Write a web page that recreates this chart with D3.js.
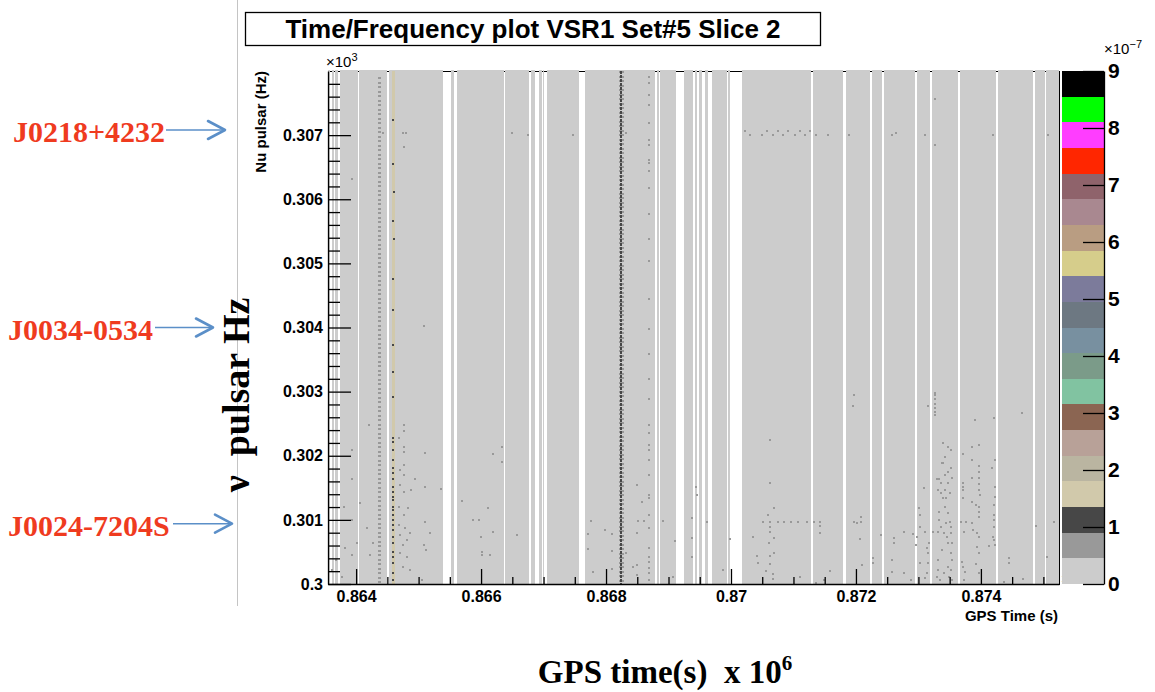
<!DOCTYPE html>
<html><head><meta charset="utf-8">
<script src="https://cdn.jsdelivr.net/npm/d3@7"></script>
<style>body{margin:0;background:#fff}svg{display:block}</style>
</head><body><svg id="c" width="1155" height="692"></svg>
<script>
// ---------------- data ----------------
const chartTitle = "Time/Frequency plot VSR1 Set#5 Slice 2";
const timeDomain = [0.86355, 0.87525];          // GPS time (x10^9 s)
const freqDomain = [0.300, 0.308];              // Nu pulsar (x10^3 Hz)
const zDomain = [0, 9];
const xTicks = [0.864, 0.866, 0.868, 0.870, 0.872, 0.874];
const xTickLabels = ["0.864", "0.866", "0.868", "0.87", "0.872", "0.874"];
const yTicks = [0.300, 0.301, 0.302, 0.303, 0.304, 0.305, 0.306, 0.307];
const yTickLabels = ["0.3", "0.301", "0.302", "0.303", "0.304", "0.305", "0.306", "0.307"];
const zTicks = [0, 1, 2, 3, 4, 5, 6, 7, 8, 9];
const zTickLabels = ["0", "1", "2", "3", "4", "5", "6", "7", "8", "9"];
// ROOT palette, from lowest bin to highest bin
const palette = ["#cccccc", "#999999", "#474747", "#d1c9ab", "#bab5a1", "#b8a198", "#8b6552",
  "#81c3a1", "#7b9b89", "#7890a0", "#6d7882", "#7c7b9b", "#d6cd8b", "#b99d82", "#a98890",
  "#8f636b", "#ff2600", "#ff3dff", "#00ff00", "#000000"];
// time intervals with no data (white strips)
const gaps = [
  [0.86359, 0.86361], [0.86365, 0.86367], [0.86371, 0.86374], [0.86403, 0.86405],
  [0.86450, 0.86452], [0.86539, 0.86552], [0.86557, 0.86561], [0.86636, 0.86639],
  [0.86677, 0.86680], [0.86687, 0.86692], [0.86697, 0.86699], [0.86701, 0.86705],
  [0.86757, 0.86767], [0.86878, 0.86881], [0.86884, 0.86887], [0.86912, 0.86924],
  [0.86939, 0.86942], [0.86946, 0.86949], [0.86954, 0.86959], [0.86964, 0.86969],
  [0.86993, 0.86996], [0.86999, 0.87017], [0.87128, 0.87131], [0.87180, 0.87184],
  [0.87222, 0.87225], [0.87241, 0.87245], [0.87294, 0.87297], [0.87318, 0.87322],
  [0.87363, 0.87366], [0.87424, 0.87427], [0.87483, 0.87486], [0.87502, 0.87504]
];
const baseLevel = 0.2;
// columns of filled cells: [t0, t1, f0, f1, value]
const denseColumns = [
  [0.86435, 0.86440, 0.3000, 0.3079, 0.7],
  [0.86457, 0.86462, 0.3000, 0.3080, 1.5],
  [0.86820, 0.86829, 0.3000, 0.3080, 0.7],
  [0.86823, 0.86826, 0.3000, 0.3080, 1.1]
];
// individual hot cells: [time, frequency, value]
const hotCells = [
  [0.863936,0.30631,0.7],[0.864433,0.30703,0.7],[0.864753,0.30703,0.7],[0.864801,0.30703,0.7],[0.864769,0.30681,0.7],
  [0.864593,0.30723,1.1],[0.864593,0.30655,1.1],[0.864609,0.30611,1.1],[0.864593,0.30566,1.1],[0.864609,0.30538,1.1],
  [0.864593,0.30475,1.1],[0.864593,0.30428,1.1],[0.864593,0.30373,1.1],[0.864593,0.30331,1.1],[0.864593,0.30291,1.1],
  [0.864593,0.30228,1.1],[0.864593,0.30222,1.1],[0.864593,0.30209,1.1],[0.864593,0.30194,1.1],[0.864593,0.30181,1.1],
  [0.864593,0.30173,1.1],[0.864593,0.30163,1.1],[0.864593,0.30152,1.1],[0.864593,0.30144,1.1],[0.864593,0.30136,1.1],
  [0.864593,0.30131,1.1],[0.864593,0.30120,1.1],[0.864593,0.30116,1.1],[0.864593,0.30108,1.1],[0.864593,0.30100,1.1],
  [0.864593,0.30092,1.1],[0.864593,0.30084,1.1],[0.864593,0.30073,1.1],[0.864593,0.30064,1.1],[0.864593,0.30050,1.1],
  [0.864593,0.30042,1.1],[0.864593,0.30033,1.1],[0.864593,0.30017,1.1],[0.864593,0.30006,1.1],
  [0.866500,0.30703,0.7],[0.866756,0.30700,0.7],[0.867478,0.30700,0.7],[0.868327,0.30703,0.7],
  [0.868680,0.30791,0.7],[0.868680,0.30781,0.7],[0.868680,0.30763,0.7],[0.868680,0.30747,0.7],[0.868680,0.30719,0.7],
  [0.868680,0.30692,0.7],[0.868680,0.30684,0.7],[0.868680,0.30661,0.7],[0.868680,0.30656,0.7],[0.868680,0.30644,0.7],
  [0.868680,0.30617,0.7],[0.868680,0.30577,0.7],[0.868680,0.30538,0.7],[0.868680,0.30503,0.7],[0.868680,0.30444,0.7],
  [0.868680,0.30397,0.7],[0.868680,0.30358,0.7],[0.868680,0.30319,0.7],[0.868680,0.30288,0.7],[0.868680,0.30248,0.7],
  [0.868680,0.30236,0.7],[0.868680,0.30217,0.7],[0.868680,0.30209,0.7],[0.868680,0.30194,0.7],[0.868680,0.30170,0.7],
  [0.868680,0.30139,0.7],[0.868680,0.30134,0.7],[0.868680,0.30108,0.7],[0.868680,0.30088,0.7],[0.868680,0.30056,0.7],
  [0.868680,0.30042,0.7],[0.868680,0.30034,0.7],[0.868680,0.30025,0.7],[0.868680,0.30017,0.7],[0.868680,0.30006,0.7],
  [0.870218,0.30706,0.7],[0.870298,0.30700,0.7],[0.870490,0.30700,0.7],[0.870571,0.30706,0.7],[0.870667,0.30700,0.7],
  [0.870747,0.30706,0.7],[0.870827,0.30700,0.7],[0.870907,0.30706,0.7],[0.871019,0.30700,0.7],[0.871099,0.30706,0.7],
  [0.871180,0.30700,0.7],[0.871260,0.30706,0.7],[0.871356,0.30700,0.7],[0.871548,0.30700,0.7],[0.871885,0.30700,0.7],
  [0.872574,0.30700,0.7],[0.872638,0.30703,0.7],[0.873103,0.30700,0.7],[0.874192,0.30700,0.7],[0.875074,0.30700,0.7],
  [0.873263,0.30756,0.7],[0.873263,0.30684,0.7],[0.865090,0.30403,0.7],
  [0.864208,0.30248,0.7],[0.863936,0.30209,0.7],[0.863936,0.30163,0.7],[0.863808,0.30120,0.7],[0.864064,0.30127,0.7],
  [0.863936,0.30100,0.7],[0.863824,0.30056,0.7],[0.863936,0.30045,0.7],[0.864016,0.30064,0.7],[0.864176,0.30088,0.7],
  [0.864224,0.30045,0.7],[0.864272,0.30064,0.7],[0.863615,0.30022,0.7],[0.863679,0.30038,0.7],[0.863776,0.30011,0.7],
  [0.864689,0.30228,0.7],[0.864769,0.30248,0.7],[0.864769,0.30238,0.7],[0.864769,0.30213,0.7],[0.864769,0.30206,0.7],
  [0.864769,0.30186,0.7],[0.864705,0.30178,0.7],[0.864769,0.30170,0.7],[0.864705,0.30155,0.7],[0.864769,0.30144,0.7],
  [0.864689,0.30120,0.7],[0.864833,0.30119,0.7],[0.864769,0.30108,0.7],[0.864689,0.30092,0.7],[0.864785,0.30088,0.7],
  [0.864705,0.30077,0.7],[0.864817,0.30069,0.7],[0.864753,0.30061,0.7],[0.864865,0.30080,0.7],[0.864705,0.30048,0.7],
  [0.864817,0.30042,0.7],[0.864753,0.30027,0.7],[0.864865,0.30022,0.7],
  [0.865106,0.30205,0.7],[0.864946,0.30163,0.7],[0.864881,0.30147,0.7],[0.865106,0.30152,0.7],[0.865106,0.30097,0.7],
  [0.865186,0.30080,0.7],[0.865090,0.30061,0.7],[0.865122,0.30053,0.7],[0.865362,0.30148,0.7],[0.865058,0.30006,0.7],
  [0.865699,0.30130,0.7],[0.866196,0.30203,0.7],[0.866340,0.30214,0.7],[0.866340,0.30191,0.7],[0.866115,0.30119,0.7],
  [0.865875,0.30100,0.7],[0.865971,0.30100,0.7],[0.866196,0.30081,0.7],[0.866003,0.30073,0.7],[0.866019,0.30050,0.7],
  [0.866019,0.30045,0.7],[0.866147,0.30045,0.7],[0.866580,0.30077,0.7],
  [0.867766,0.30098,0.7],[0.867718,0.30078,0.7],[0.867718,0.30055,0.7],[0.867798,0.30019,0.7],[0.867990,0.30084,0.7],
  [0.868103,0.30078,0.7],[0.868103,0.30052,0.7],[0.868103,0.30023,0.7],[0.868503,0.30155,0.7],[0.868583,0.30128,0.7],
  [0.868519,0.30098,0.7],[0.868615,0.30098,0.7],[0.868503,0.30080,0.7],[0.868327,0.30048,0.7],[0.868439,0.30027,0.7],
  [0.868503,0.30030,0.7],[0.868503,0.30014,0.7],[0.868904,0.30098,0.7],[0.869096,0.30067,0.7],[0.869064,0.30011,0.7],
  [0.869433,0.30152,0.7],[0.869449,0.30139,0.7],[0.869369,0.30103,0.7],[0.869369,0.30072,0.7],[0.869369,0.30042,0.7],
  [0.869609,0.30097,0.7],[0.869865,0.30022,0.7],[0.869978,0.30070,0.7],
  [0.870619,0.30225,0.7],[0.870619,0.30158,0.7],[0.870683,0.30119,0.7],[0.870587,0.30108,0.7],
  [0.870507,0.30097,0.7],[0.870619,0.30097,0.7],[0.870747,0.30097,0.7],[0.870843,0.30097,0.7],[0.870955,0.30097,0.7],
  [0.871067,0.30097,0.7],[0.871212,0.30097,0.7],[0.871324,0.30097,0.7],[0.871420,0.30097,0.7],
  [0.870619,0.30089,0.7],[0.870619,0.30081,0.7],[0.871420,0.30091,0.7],[0.871420,0.30080,0.7],[0.870683,0.30072,0.7],
  [0.870603,0.30064,0.7],[0.870346,0.30073,0.7],[0.870410,0.30044,0.7],[0.870619,0.30044,0.7],[0.870683,0.30048,0.7],
  [0.870426,0.30033,0.7],[0.870619,0.30031,0.7],[0.870554,0.30020,0.7],[0.870667,0.30016,0.7],[0.870667,0.30008,0.7],
  [0.871099,0.30011,0.7],[0.871356,0.30002,0.7],[0.871484,0.30006,0.7],[0.871580,0.30020,0.7],
  [0.871965,0.30295,0.7],[0.871949,0.30277,0.7],[0.871965,0.30097,0.7],[0.872013,0.30095,0.7],[0.872077,0.30105,0.7],
  [0.872077,0.30097,0.7],[0.872061,0.30070,0.7],[0.872093,0.30030,0.7],[0.872397,0.30077,0.7],[0.872269,0.30041,0.7],
  [0.872269,0.30033,0.7],[0.872606,0.30072,0.7],[0.872606,0.30064,0.7],[0.872574,0.30038,0.7],[0.872574,0.30019,0.7],
  [0.872766,0.30081,0.7],[0.872766,0.30017,0.7],[0.872910,0.30078,0.7],[0.872878,0.30006,0.7],[0.873151,0.30278,0.7],
  [0.873263,0.30298,0.7],[0.873263,0.30294,0.7],[0.873263,0.30288,0.7],[0.873263,0.30281,0.7],[0.873263,0.30275,0.7],
  [0.873263,0.30269,0.7],[0.873263,0.30264,0.7],
  [0.873391,0.30220,0.7],[0.873391,0.30189,0.7],[0.873423,0.30198,0.7],[0.873471,0.30214,0.7],[0.873519,0.30209,0.7],
  [0.873375,0.30188,0.7],[0.873006,0.30119,0.7],[0.873022,0.30108,0.7],[0.873022,0.30089,0.7],[0.872974,0.30073,0.7],
  [0.872958,0.30061,0.7],[0.873103,0.30081,0.7],[0.873135,0.30056,0.7],[0.873151,0.30048,0.7],[0.873022,0.30033,0.7],
  [0.873151,0.30033,0.7],[0.873135,0.30017,0.7],[0.873103,0.30009,0.7],[0.873167,0.30064,0.7],[0.873087,0.30150,0.7],
  [0.873231,0.30081,0.7],[0.873295,0.30163,0.7],[0.873327,0.30163,0.7],[0.873359,0.30158,0.7],[0.873311,0.30147,0.7],
  [0.873359,0.30142,0.7],[0.873423,0.30147,0.7],[0.873391,0.30134,0.7],[0.873439,0.30134,0.7],[0.873503,0.30142,0.7],
  [0.873471,0.30175,0.7],[0.873519,0.30181,0.7],[0.873535,0.30166,0.7],[0.873471,0.30158,0.7],[0.873423,0.30170,0.7],
  [0.873327,0.30113,0.7],[0.873327,0.30100,0.7],[0.873423,0.30120,0.7],[0.873471,0.30111,0.7],[0.873359,0.30089,0.7],
  [0.873439,0.30095,0.7],[0.873503,0.30097,0.7],[0.873519,0.30089,0.7],[0.873311,0.30081,0.7],[0.873407,0.30080,0.7],
  [0.873455,0.30073,0.7],[0.873519,0.30080,0.7],[0.873535,0.30064,0.7],[0.873471,0.30064,0.7],[0.873519,0.30048,0.7],
  [0.873535,0.30038,0.7],[0.873471,0.30027,0.7],[0.873519,0.30022,0.7],[0.873407,0.30017,0.7],[0.873311,0.30022,0.7],
  [0.873295,0.30011,0.7],[0.873343,0.30006,0.7],[0.873487,0.30011,0.7],[0.873535,0.30006,0.7],[0.873311,0.30038,0.7],
  [0.873375,0.30053,0.7],
  [0.873712,0.30203,0.7],[0.873712,0.30158,0.7],[0.873712,0.30152,0.7],[0.873712,0.30147,0.7],[0.873712,0.30134,0.7],
  [0.873679,0.30097,0.7],[0.873728,0.30081,0.7],[0.873760,0.30097,0.7],[0.873696,0.30034,0.7],[0.873712,0.30027,0.7],
  [0.873744,0.30019,0.7],[0.873728,0.30006,0.7],
  [0.873856,0.30214,0.7],[0.873856,0.30194,0.7],[0.873856,0.30166,0.7],[0.873856,0.30128,0.7],[0.873920,0.30123,0.7],
  [0.873968,0.30113,0.7],[0.873968,0.30217,0.7],[0.873968,0.30184,0.7],[0.873968,0.30175,0.7],[0.873968,0.30166,0.7],
  [0.873968,0.30156,0.7],[0.873968,0.30147,0.7],[0.873984,0.30139,0.7],[0.873968,0.30120,0.7],[0.873968,0.30105,0.7],
  [0.873856,0.30095,0.7],[0.873872,0.30084,0.7],[0.873936,0.30080,0.7],[0.873968,0.30073,0.7],[0.873936,0.30058,0.7],
  [0.873968,0.30048,0.7],[0.873920,0.30031,0.7],[0.873968,0.30017,0.7],[0.873904,0.30255,0.7],
  [0.874208,0.30259,0.7],[0.874224,0.30194,0.7],[0.874176,0.30181,0.7],[0.874224,0.30152,0.7],[0.874224,0.30136,0.7],
  [0.874208,0.30123,0.7],[0.874208,0.30108,0.7],[0.874208,0.30100,0.7],[0.874208,0.30089,0.7],[0.874192,0.30073,0.7],
  [0.874208,0.30069,0.7],[0.874224,0.30061,0.7],[0.874128,0.30059,0.7],
  [0.874449,0.30041,0.7],[0.874449,0.30033,0.7],[0.874657,0.30266,0.7],[0.874881,0.30091,0.7],[0.875170,0.30097,0.7],
  [0.875058,0.30042,0.7],[0.874673,0.30008,0.7],[0.874369,0.30003,0.7]
];
// pulsar annotations (frequency x10^3 Hz)
const pulsarNames = ["J0218+4232", "J0034-0534", "J0024-7204S"];
const pulsarFreqs = [0.30708, 0.30400, 0.30094];

// ---------------- drawing ----------------
const svg = d3.select("#c");
const L = 328, R = 1059, T = 71, B = 584;
const x = d3.scaleLinear(timeDomain, [L, R]);
const y = d3.scaleLinear(freqDomain, [B, T]);
const color = d3.scaleQuantize(zDomain, palette);
const SANS = "'Liberation Sans', Arial, Helvetica, sans-serif";
const SERIF = "'Liberation Serif', 'Times New Roman', serif";

// page border line
svg.append("line").attr("x1", 237.5).attr("x2", 237.5).attr("y1", 0).attr("y2", 606)
  .attr("stroke", "#c4c4c4").attr("stroke-width", 1);

// title box
svg.append("rect").attr("x", 245.5).attr("y", 12.5).attr("width", 575).attr("height", 33)
  .attr("fill", "#fff").attr("stroke", "#000").attr("stroke-width", 1.3);
svg.append("text").attr("x", 533).attr("y", 38).attr("text-anchor", "middle")
  .attr("font-family", SANS).attr("font-weight", "bold").attr("font-size", 26)
  .text(chartTitle);

// frame (covered by cells except in gaps)
svg.append("rect").attr("x", L + 0.5).attr("y", T + 0.5).attr("width", R - L).attr("height", B - T)
  .attr("fill", "none").attr("stroke", "#000").attr("stroke-width", 1);

// base cells: complement of gaps
const segments = [];
let prev = timeDomain[0];
gaps.forEach(g => { segments.push([prev, g[0]]); prev = g[1]; });
segments.push([prev, timeDomain[1]]);
const plot = svg.append("g").attr("shape-rendering", "crispEdges");
plot.selectAll("rect.seg").data(segments).join("rect").attr("class", "seg")
  .attr("x", d => x(d[0])).attr("width", d => Math.max(0, x(d[1]) - x(d[0])))
  .attr("y", y(freqDomain[1]) - 0.6).attr("height", y(freqDomain[0]) - y(freqDomain[1]) + 0.6)
  .attr("fill", color(baseLevel));

// dense columns
plot.selectAll("line.col").data(denseColumns).join("line").attr("class", "col")
  .attr("x1", d => (x(d[0]) + x(d[1])) / 2).attr("x2", d => (x(d[0]) + x(d[1])) / 2)
  .attr("y1", d => y(d[3])).attr("y2", d => y(d[2]))
  .attr("stroke", d => color(d[4])).attr("stroke-width", d => x(d[1]) - x(d[0]))
  .attr("stroke-dasharray", d => d[4] < 1.35 ? (d[4] < 0.9 ? "2,2.5" : "3,1") : null);

// hot cells
plot.selectAll("rect.cell").data(hotCells).join("rect").attr("class", "cell")
  .attr("x", d => x(d[0]) - 1).attr("y", d => y(d[1]) - 1)
  .attr("width", 2).attr("height", 2).attr("fill", d => color(d[2]));

// axes
function styleAxis(g) {
  g.selectAll("text").attr("font-family", SANS).attr("font-weight", "bold").attr("fill", "#000");
  g.selectAll("line").attr("stroke", "#000").attr("stroke-width", 1.3);
  g.select(".domain").attr("stroke", "#000").attr("stroke-width", 1.3);
}
const yMinor = d3.range(1, 40).map(i => 0.3 + i * 0.0002).filter(v => Math.abs(v * 1000 - Math.round(v * 1000)) > 1e-6);
const xMinor = d3.range(0, 23).map(i => 0.864 + i * 0.0005).filter(v => Math.abs(v * 500 - Math.round(v * 500)) > 1e-6 && v <= timeDomain[1]);

svg.append("g").attr("transform", `translate(${L},0)`)
  .call(d3.axisLeft(y).tickValues(yMinor).tickSize(-12).tickFormat(""))
  .call(g => g.select(".domain").remove()).call(styleAxis);
svg.append("g").attr("transform", `translate(${L},0)`)
  .call(d3.axisLeft(y).tickValues(yTicks).tickSize(-23).tickSizeOuter(0).tickPadding(5)
    .tickFormat((d, i) => yTickLabels[i]))
  .call(styleAxis).call(g => g.selectAll("text").attr("font-size", 16));

svg.append("g").attr("transform", `translate(0,${B})`)
  .call(d3.axisBottom(x).tickValues(xMinor).tickSize(-7).tickFormat(""))
  .call(g => g.select(".domain").remove()).call(styleAxis);
svg.append("g").attr("transform", `translate(0,${B})`)
  .call(d3.axisBottom(x).tickValues(xTicks).tickSize(-15).tickSizeOuter(0).tickPadding(7)
    .tickFormat((d, i) => xTickLabels[i]))
  .call(styleAxis).call(g => g.selectAll("text").attr("font-size", 16));

// axis exponents and titles
const exp3 = svg.append("text").attr("x", 326).attr("y", 67).attr("font-family", SANS).attr("font-size", 15);
exp3.append("tspan").text("×10");
exp3.append("tspan").attr("dy", -6).attr("font-size", 11).text("3");

const exp9 = svg.append("text").attr("x", 1061).attr("y", 584).attr("font-family", SANS).attr("font-size", 15);
exp9.append("tspan").text("×10");
exp9.append("tspan").attr("dy", -7).attr("font-size", 11).text("9");

svg.append("text").attr("x", 1058).attr("y", 621).attr("text-anchor", "end")
  .attr("font-family", SANS).attr("font-weight", "bold").attr("font-size", 15).text("GPS Time (s)");

svg.append("text").attr("transform", "translate(266,71) rotate(-90)").attr("text-anchor", "end")
  .attr("font-family", SANS).attr("font-weight", "bold").attr("font-size", 15).text("Nu pulsar (Hz)");

// colour bar
const zy = d3.scaleLinear(zDomain, [B, T]);
const binW = (zDomain[1] - zDomain[0]) / palette.length;
svg.append("g").attr("shape-rendering", "crispEdges").selectAll("rect").data(palette).join("rect")
  .attr("x", 1062).attr("width", 42)
  .attr("y", (d, i) => zy(zDomain[0] + (i + 1) * binW)).attr("height", (d, i) => zy(zDomain[0] + i * binW) - zy(zDomain[0] + (i + 1) * binW))
  .attr("fill", d => d);
svg.append("g").attr("transform", "translate(1104,0)")
  .call(d3.axisRight(zy).tickValues(zTicks).tickSize(-21).tickSizeOuter(0).tickPadding(4)
    .tickFormat((d, i) => zTickLabels[i]))
  .call(styleAxis).call(g => g.selectAll("text").attr("font-size", 21));
const expz = svg.append("text").attr("x", 1104).attr("y", 54).attr("font-family", SANS).attr("font-size", 15);
expz.append("tspan").text("×10");
expz.append("tspan").attr("dy", -6).attr("font-size", 11).text("−7");

// big axis labels
svg.append("text").attr("transform", "translate(249,395) rotate(-90)").attr("text-anchor", "middle")
  .style("white-space", "pre")
  .attr("font-family", SERIF).attr("font-weight", "bold").attr("font-size", 38).text("ν  pulsar Hz");

const bottomLabel = svg.append("text").attr("x", 665).attr("y", 683).attr("text-anchor", "middle")
  .style("white-space", "pre")
  .attr("font-family", SERIF).attr("font-weight", "bold").attr("font-size", 33);
bottomLabel.append("tspan").text("GPS time(s)  x 10");
bottomLabel.append("tspan").attr("dy", -13).attr("font-size", 21).text("6");

// pulsar labels and arrows
const labelX = [13, 8, 8];
const arrowX = [[166, 225], [155, 213], [173, 232]];
const ann = svg.append("g");
pulsarNames.forEach((name, i) => {
  const yy = y(pulsarFreqs[i]);
  ann.append("text").attr("x", labelX[i]).attr("y", yy + 12)
    .attr("font-family", SERIF).attr("font-weight", "bold").attr("font-size", 30)
    .attr("fill", "#ef3b1f").text(name);
  const [a, b] = arrowX[i];
  ann.append("line").attr("x1", a).attr("x2", b - 1).attr("y1", yy).attr("y2", yy)
    .attr("stroke", "#5b8fc8").attr("stroke-width", 1.6);
  ann.append("path").attr("d", `M${b - 17},${yy - 9} L${b},${yy} L${b - 17},${yy + 9}`)
    .attr("fill", "none").attr("stroke", "#5b8fc8").attr("stroke-width", 2.6)
    .attr("stroke-linecap", "round").attr("stroke-linejoin", "round");
});
</script>
</body></html>
